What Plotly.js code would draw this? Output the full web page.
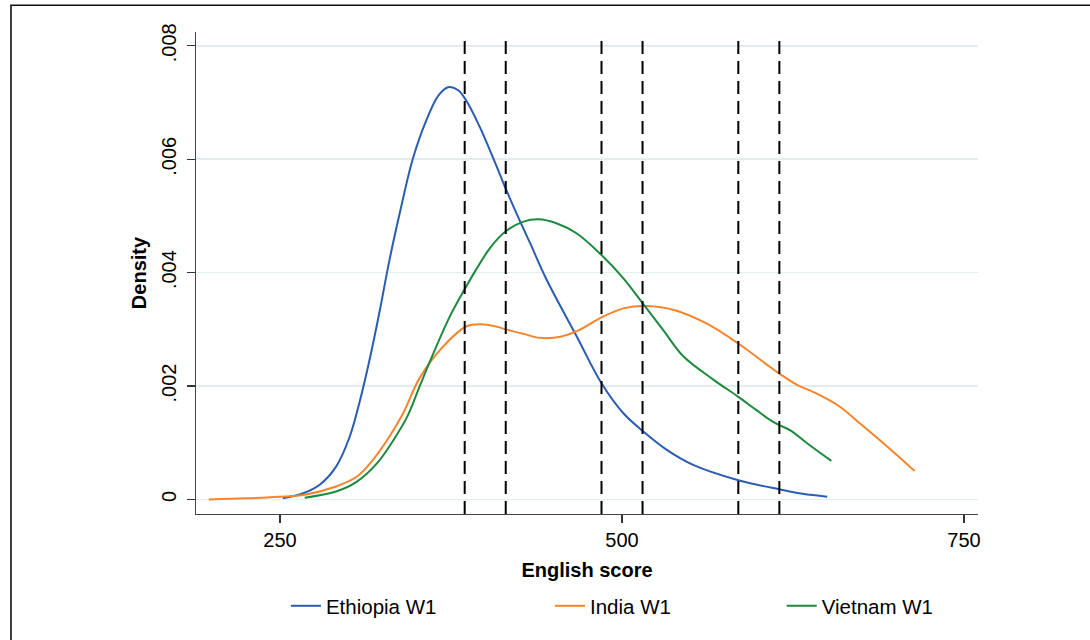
<!DOCTYPE html>
<html>
<head>
<meta charset="utf-8">
<script src="https://cdn.plot.ly/plotly-3.0.1.min.js"></script>
<style>html,body{margin:0;padding:0;background:#fff;}#chart{width:1090px;height:640px;}</style>
</head>
<body>
<div id="chart"></div>
<script>
// ---- data ----
const seriesNames = ["Ethiopia W1", "India W1", "Vietnam W1"];
const seriesColors = ["#2a5cb0", "#f5842c", "#1c8a3e"];

const ethiopiaX = [252, 267, 279, 291, 301, 308.5, 316, 323, 330, 338, 347, 357, 366, 373, 380, 386, 396, 406, 415, 425, 433, 445, 467, 485, 501, 516, 533, 552, 585, 615, 632, 650];
const ethiopiaY = [0.00002, 0.00011, 0.00026, 0.00058, 0.00111, 0.00175, 0.00252, 0.00334, 0.00422, 0.00510, 0.00600, 0.00669, 0.00713, 0.00727, 0.00722, 0.00704, 0.00657, 0.00601, 0.00548, 0.00493, 0.00451, 0.00387, 0.00287, 0.00205, 0.00152, 0.00119, 0.00087, 0.00061, 0.00034, 0.00018, 0.00010, 0.00005];

const indiaX = [198, 225, 243, 267, 291, 306, 318, 330, 340, 352, 369, 386, 397, 408, 415, 428, 440, 455, 469, 485, 501, 518, 538, 562, 585, 608, 615, 628, 642, 659, 672, 694, 714];
const indiaY = [0.00000, 0.00002, 0.00004, 0.00008, 0.00023, 0.00040, 0.00070, 0.00111, 0.00152, 0.00214, 0.00269, 0.00305, 0.00309, 0.00305, 0.00300, 0.00292, 0.00285, 0.00287, 0.00299, 0.00321, 0.00337, 0.00341, 0.00334, 0.00310, 0.00275, 0.00234, 0.00222, 0.00202, 0.00187, 0.00164, 0.00138, 0.00093, 0.00050];

const vietnamX = [268, 291, 306, 321, 333, 343, 352, 359, 374, 386, 393, 404, 415, 428, 439, 452, 467, 485, 501, 516, 530, 545, 567, 585, 598, 609, 615, 623, 637, 653];
const vietnamY = [0.00003, 0.00014, 0.00031, 0.00064, 0.00105, 0.00146, 0.00199, 0.00240, 0.00322, 0.00375, 0.00404, 0.00445, 0.00473, 0.00490, 0.00494, 0.00487, 0.00469, 0.00431, 0.00390, 0.00343, 0.00299, 0.00252, 0.00211, 0.00181, 0.00158, 0.00139, 0.00131, 0.00122, 0.00096, 0.00068];

const cutoffs = [385, 415, 485, 515, 585, 615];

const xTickVals = [250, 500, 750];
const xTickText = ["250", "500", "750"];
const yTickVals = [0, 0.002, 0.004, 0.006, 0.008];
const yTickText = ["0", ".002", ".004", ".006", ".008"];

const xTitle = "English score";
const yTitle = "Density";

// ---- chart ----
const FONT = "Liberation Sans, Arial, Helvetica, sans-serif";
const xs = [ethiopiaX, indiaX, vietnamX];
const ys = [ethiopiaY, indiaY, vietnamY];
const legendIds = ["legend", "legend2", "legend3"];

const traces = seriesNames.map((name, i) => ({
  type: "scatter",
  mode: "lines",
  name: name,
  x: xs[i],
  y: ys[i],
  line: {color: seriesColors[i], width: 2, shape: "spline", smoothing: 1.0},
  legend: legendIds[i],
  hoverinfo: "x+y+name"
}));

const shapes = cutoffs.map(c => ({
  type: "line", xref: "x", yref: "paper",
  x0: c, x1: c, y0: 0, y1: 0.991,
  line: {color: "#000", width: 2, dash: "13px,7px"},
  layer: "above"
}));
// outer frame of the graph region
shapes.push({
  type: "rect", xref: "paper", yref: "paper",
  x0: -0.2366, x1: 1.16, y0: -0.29, y1: 1.0554,
  line: {color: "#111", width: 1.6}, fillcolor: "rgba(0,0,0,0)", layer: "below"
});

const legendBase = {
  orientation: "h", yanchor: "middle", xanchor: "left", y: -0.1908,
  font: {family: FONT, size: 20.5, color: "#000"},
  bgcolor: "rgba(0,0,0,0)", borderwidth: 0
};

const layout = {
  width: 1090, height: 640,
  paper_bgcolor: "#fff", plot_bgcolor: "#fff",
  margin: {l: 196, r: 112, t: 32, b: 126, autoexpand: false},
  font: {family: FONT, size: 20, color: "#000"},
  showlegend: true,
  xaxis: {
    range: [188.6, 760.2],
    tickvals: xTickVals, ticktext: xTickText,
    ticks: "outside", ticklen: 8, tickwidth: 1.2, tickcolor: "#333",
    showline: true, linecolor: "#444", linewidth: 1.2,
    showgrid: false, zeroline: false,
    tickfont: {family: FONT, size: 20, color: "#000"},
    title: {text: "<b>" + xTitle + "</b>", font: {family: FONT, size: 20, color: "#000"}, standoff: 12},
    automargin: false
  },
  yaxis: {
    range: [-0.000256, 0.008243],
    tickvals: yTickVals, ticktext: yTickText, tickangle: -90,
    ticks: "outside", ticklen: 8, tickwidth: 1.2, tickcolor: "#333",
    ticklabelstandoff: 3,
    showline: true, linecolor: "#444", linewidth: 1.2,
    showgrid: true, gridcolor: "#e2edf0", gridwidth: 1.6,
    zeroline: false,
    tickfont: {family: FONT, size: 20, color: "#000"},
    title: {text: "<b>" + yTitle + "</b>", font: {family: FONT, size: 20, color: "#000"}, standoff: 5},
    automargin: false
  },
  legend: Object.assign({}, legendBase, {x: 0.115}),
  legend2: Object.assign({}, legendBase, {x: 0.4527}),
  legend3: Object.assign({}, legendBase, {x: 0.749}),
  shapes: shapes
};

Plotly.newPlot("chart", traces, layout, {displayModeBar: false, staticPlot: true});
</script>
</body>
</html>
